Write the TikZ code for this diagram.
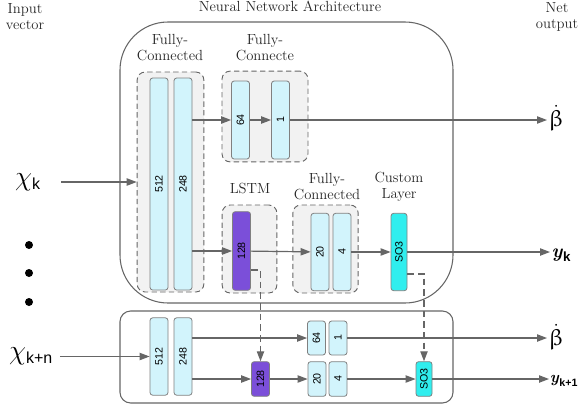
\documentclass[tikz,border=0pt]{standalone}
\usepackage{amsmath,amssymb,upgreek}
\usepackage{fontspec}
\setsansfont{Liberation Sans}
\usetikzlibrary{arrows.meta,shapes.misc}
\definecolor{barblue}{HTML}{D2F4FC}
\definecolor{lstmpurple}{HTML}{7B4FD9}
\definecolor{socyan}{HTML}{30EEEE}
\definecolor{linegray}{HTML}{666666}
\definecolor{groupgray}{HTML}{F2F2F2}
\tikzstyle{netbox} = [draw=linegray, line width=0.8pt]
\tikzstyle{group} = [rectangle, draw=linegray, dashed, dash pattern=on 4pt off 2.5pt, fill=groupgray, rounded corners=6pt, line width=0.7pt]
\tikzstyle{fcbar} = [rectangle, draw=gray, fill=barblue, rounded corners=2pt, minimum width=13.5pt, inner sep=0pt, font=\sffamily\footnotesize, line width=0.6pt]
\tikzstyle{lstmbar} = [fcbar, fill=lstmpurple]
\tikzstyle{sobar} = [fcbar, fill=socyan, minimum width=12pt]
\tikzstyle{caption} = [text centered, align=center, font=\fontsize{11}{12}\selectfont, text=black!85]
\tikzstyle{signal} = [inner sep=1pt, text=black]
\tikzstyle{connector} = [line width=0.9pt, draw=linegray, -{Triangle[length=7.5pt,width=5.5pt,fill=linegray]}]
\tikzstyle{dashlink} = [connector, dash pattern=on 5pt off 3pt]

\begin{document}
\begin{tikzpicture}[x=0.75pt, y=-0.75pt]
            \useasboundingbox (0,0) rectangle (582,408);
            % outer boxes
            \draw [netbox, rounded corners=36pt] (120,22) rectangle (453,303);
            \draw [netbox, rounded corners=8pt] (120,311) rectangle (453,403);
            \node (arch) [caption] at (290,6) {Neural Network Architecture};
            \node (invec) [caption] at (25,17) {Input\\vector};
            \node (outvec) [caption] at (557,17) {Net\\output};
            % dashed groups
            \node (g1) [group, minimum width=50pt, minimum height=165pt] at (170.5,182) {};
            \node (g2) [group, minimum width=64.5pt, minimum height=68pt] at (265,116.5) {};
            \node (g3) [group, minimum width=41pt, minimum height=66pt] at (249.5,249) {};
            \node (g4) [group, minimum width=49pt, minimum height=66pt] at (325.5,249) {};
            \node (cap1) [caption] at (170,48) {Fully-\\Connected};
            \node (cap2) [caption] at (265,48) {Fully-\\Connecte};
            \node (cap3) [caption] at (250,188) {LSTM};
            \node (cap4) [caption] at (327,187) {Fully-\\Connected};
            \node (cap5) [caption] at (399,187) {Custom\\Layer};
            % top row
            \node (a512) [fcbar, minimum height=159pt] at (159,184) {\rotatebox{90}{512}};
            \node (a248) [fcbar, minimum height=159pt] at (183,184) {\rotatebox{90}{248}};
            \node (a64) [fcbar, minimum height=58.5pt] at (240.5,120) {\rotatebox{90}{64}};
            \node (a1) [fcbar, minimum height=58.5pt] at (280.5,120) {\rotatebox{90}{1}};
            \node (a128) [lstmbar, minimum height=59pt] at (241.5,251) {\rotatebox{90}{128}};
            \node (a20) [fcbar, minimum height=58pt] at (320,252) {\rotatebox{90}{20}};
            \node (a4) [fcbar, minimum height=58pt] at (342,252) {\rotatebox{90}{4}};
            \node (aso) [sobar, minimum height=58pt] at (399,252) {\rotatebox{90}{SO3}};
            % bottom row
            \node (b512) [fcbar, minimum height=58pt] at (159,356.5) {\rotatebox{90}{512}};
            \node (b248) [fcbar, minimum height=58pt] at (183,356.5) {\rotatebox{90}{248}};
            \node (b64) [fcbar, minimum height=25.5pt] at (316.5,338) {\rotatebox{90}{64}};
            \node (b1) [fcbar, minimum height=25.5pt] at (338,338) {\rotatebox{90}{1}};
            \node (b128) [lstmbar, minimum height=26pt] at (260.5,379) {\rotatebox{90}{128}};
            \node (b20) [fcbar, minimum height=26pt] at (317,379) {\rotatebox{90}{20}};
            \node (b4) [fcbar, minimum height=26pt] at (338,379) {\rotatebox{90}{4}};
            \node (bso) [sobar, minimum height=26pt] at (424,379) {\rotatebox{90}{SO3}};
            % inputs and outputs
            \node (xk) [signal, font=\huge] at (28,182) {$\chi_{\textsf{\large k}}$};
            \node (xkn) [signal, font=\huge] at (31,356.5) {$\chi_{\textsf{\large k+n}}$};
            \foreach \yy in {245,273,302}
                \fill (29,\yy) circle (3pt);
            \node (betaA) [signal, anchor=west, font=\LARGE] at (547,118) {$\dot{\upbeta}$};
            \node (yk) [signal, anchor=west, font=\Large] at (550,255) {$\textbf{\textit{y}}_{\textsf{\textbf{k}}}$};
            \node (betaB) [signal, anchor=west, font=\LARGE] at (547,337) {$\dot{\upbeta}$};
            \node (yk1) [signal, anchor=west, font=\large, inner sep=0.5pt] at (549,381) {$\textbf{\textit{y}}_{\textsf{\textbf{k+1}}}$};
            % top connectors
            \draw [connector, shorten <=14pt] (xk.east) -- (g1.west);
            \draw [connector] (a248.east |- a64.west) -- (a64.west);
            \draw [connector] (a64) -- (a1);
            \draw [connector] (a1.east) -- (betaA.west |- a1.east);
            \draw [connector] (a248.east |- a128.west) -- (a128.west);
            \draw [connector] (a128) -- (a20);
            \draw [connector] (a4.east) -- (aso.west);
            \draw [connector] (aso.east) -- (yk.west |- aso.east);
            % bottom connectors
            \draw [connector, shorten <=4pt] (xkn.east) -- (b512.west);
            \draw [connector] (b248.east |- b64.west) -- (b64.west);
            \draw [connector] (b1.east) -- (betaB.west |- b1.east);
            \draw [connector] (b248.east |- b128.west) -- (b128.west);
            \draw [connector] (b128) -- (b20);
            \draw [connector] (b4) -- (bso);
            \draw [connector] (bso.east) -- (yk1.west |- bso.east);
            % state passing
            \coordinate (lk1) at (260.5,270);
            \coordinate (lk2) at (424,274);
            \draw [dashlink] (a128.east |- lk1) -- (lk1) -- (b128.north);
            \draw [dashlink] (aso.east |- lk2) -- (lk2) -- (bso.north);
        \end{tikzpicture}
\end{document}
